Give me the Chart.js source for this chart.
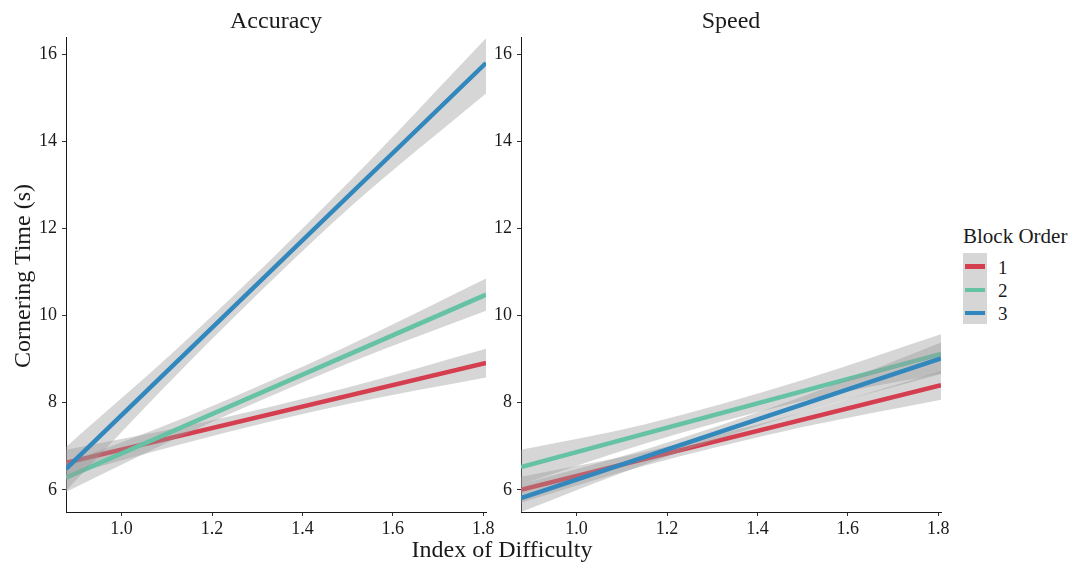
<!DOCTYPE html>
<html>
<head>
<meta charset="utf-8">
<title>Cornering Time by Index of Difficulty</title>
<script src="https://cdn.jsdelivr.net/npm/chart.js@4.4.1/dist/chart.umd.min.js"></script>
<style>
  body { margin: 0; background: #fff; font-family: "Liberation Serif", "Times New Roman", serif; color: #1a1a1a; }
  #wrap { position: relative; width: 1070px; height: 562px; overflow: hidden; }
  .panel { position: absolute; top: 0; width: 480px; height: 540px; }
  .axisTitle { position: absolute; font-size: 24px; line-height: 1; white-space: nowrap; }
  #yTitle { left: 22px; top: 276px; transform: translate(-50%, -50%) rotate(-90deg); }
  #xTitle { left: 502px; top: 549px; transform: translate(-50%, -50%); }
  #legendTitle { position: absolute; left: 963px; top: 226px; font-size: 21px; line-height: 1; white-space: nowrap; }
  #legendKeys { position: absolute; left: 963px; top: 253px; width: 24px; height: 71px; background: #d6d6d6; }
  .legendRow { position: absolute; left: 963px; height: 24px; width: 100px; }
  .legendSwatch { position: absolute; left: 2px; width: 20px; height: 4.5px; top: 50%; margin-top: -2.25px; }
  .legendLabel { position: absolute; left: 35px; top: 50%; transform: translateY(-50%); font-size: 19px; line-height: 1; }
</style>
</head>
<body>
<div id="wrap">
  <div class="panel" style="left:20px"><canvas id="accuracyChart" width="480" height="540"></canvas></div>
  <div class="panel" style="left:475px"><canvas id="speedChart" width="480" height="540"></canvas></div>
  <div id="yTitle" class="axisTitle">Cornering Time (s)</div>
  <div id="xTitle" class="axisTitle">Index of Difficulty</div>
  <div id="legendTitle">Block Order</div>
  <div id="legendKeys"></div>
  <div id="legend"></div>
</div>
<script>
// block orders and their colours
const blockOrders = ['1', '2', '3'];
const seriesColors = ['#d53e4f', '#66c2a5', '#3288bd'];
const bandFill = 'rgba(153, 153, 153, 0.4)';

// axis ranges and ticks
const xMin = 0.877, xMax = 1.806;
const yMin = 5.49, yMax = 16.39;
const xTicks = [1.0, 1.2, 1.4, 1.6, 1.8];
const yTicks = [6, 8, 10, 12, 14, 16];

// x positions of the fitted lines and of the confidence band points
const fitX = [0.877, 1.806];
const bandX = [0.877, 1.15, 1.5, 1.806];

// Accuracy block: fitted line ends, lower and upper band (rows = block order 1, 2, 3)
const accFit = [[6.62, 8.91], [6.28, 10.48], [6.48, 15.80]];
const accLow = [[6.32, 7.10, 7.97, 8.58], [5.95, 7.32, 8.90, 10.11], [5.98, 8.94, 12.44, 15.10]];
const accHigh = [[6.92, 7.48, 8.35, 9.24], [6.61, 7.70, 9.30, 10.85], [6.98, 9.50, 13.04, 16.37]];

// Speed block
const spdFit = [[6.00, 8.40], [6.52, 9.12], [5.81, 9.02]];
const spdLow = [[5.70, 6.55, 7.44, 8.07], [6.12, 7.06, 8.04, 8.67], [5.49, 6.58, 7.78, 8.66]];
const spdHigh = [[6.30, 6.87, 7.78, 8.73], [6.92, 7.50, 8.52, 9.57], [6.13, 6.92, 8.14, 9.38]];

const fontFamily = '"Liberation Serif", "Times New Roman", serif';
const textColor = '#1a1a1a';

function pairs(xs, ys) {
  return xs.map((x, j) => ({ x: x, y: ys[j] }));
}

function buildDatasets(fit, low, high) {
  const datasets = [];
  blockOrders.forEach((b, i) => {
    // ribbons and line of one block drawn together, later blocks on top
    const order = 2 * (blockOrders.length - i);
    datasets.push({
      label: b + ' lower',
      data: pairs(bandX, low[i]),
      borderWidth: 0,
      pointRadius: 0,
      fill: false,
      cubicInterpolationMode: 'monotone',
      order: order
    });
    datasets.push({
      label: b + ' upper',
      data: pairs(bandX, high[i]),
      borderWidth: 0,
      pointRadius: 0,
      fill: '-1',
      backgroundColor: bandFill,
      cubicInterpolationMode: 'monotone',
      order: order
    });
    datasets.push({
      label: b,
      data: pairs(fitX, fit[i]),
      borderColor: seriesColors[i],
      borderWidth: 4.5,
      pointRadius: 0,
      fill: false,
      order: order - 1
    });
  });
  return datasets;
}

function panelChart(canvasId, title, fit, low, high) {
  const canvas = document.getElementById(canvasId);
  if (!canvas || canvas.dataset.rendered) return;
  new Chart(canvas, {
    type: 'line',
    data: { datasets: buildDatasets(fit, low, high) },
    options: {
      responsive: false,
      animation: false,
      layout: { padding: { left: 0, right: 14, top: 0, bottom: 0 } },
      plugins: {
        legend: { display: false },
        tooltip: { enabled: false },
        title: {
          display: true,
          text: title,
          fullSize: false,
          color: textColor,
          font: { family: fontFamily, size: 24, weight: 'normal' },
          padding: { top: 7, bottom: 1.5 }
        }
      },
      scales: {
        x: {
          type: 'linear',
          min: xMin,
          max: xMax,
          afterBuildTicks: s => { s.ticks = xTicks.map(v => ({ value: v })); },
          afterFit: s => { s.height = 28; },
          ticks: {
            callback: v => Number(v).toFixed(1),
            color: textColor,
            font: { family: fontFamily, size: 18 },
            padding: 2,
            maxRotation: 0,
            autoSkip: false
          },
          grid: { drawOnChartArea: false, drawTicks: true, tickLength: 4, color: '#333' },
          border: { display: true, color: textColor, width: 1 }
        },
        y: {
          min: yMin,
          max: yMax,
          afterBuildTicks: s => { s.ticks = yTicks.map(v => ({ value: v })); },
          afterFit: s => { s.width = 46; },
          ticks: {
            callback: v => String(v),
            color: textColor,
            font: { family: fontFamily, size: 18 },
            padding: 5,
            autoSkip: false
          },
          grid: { drawOnChartArea: false, drawTicks: true, tickLength: 4, color: '#333' },
          border: { display: true, color: textColor, width: 1 }
        }
      }
    }
  });
  canvas.dataset.rendered = 'true';
}

panelChart('accuracyChart', 'Accuracy', accFit, accLow, accHigh);
panelChart('speedChart', 'Speed', spdFit, spdLow, spdHigh);

// legend keys: short coloured lines on one grey ribbon box
const legend = document.getElementById('legend');
blockOrders.forEach((b, i) => {
  const row = document.createElement('div');
  row.className = 'legendRow';
  row.style.top = (254.5 + i * 23.3) + 'px';
  row.innerHTML = '<span class="legendSwatch" style="background:' + seriesColors[i] + '"></span>' +
    '<div class="legendLabel">' + b + '</div>';
  legend.appendChild(row);
});
</script>
</body>
</html>
